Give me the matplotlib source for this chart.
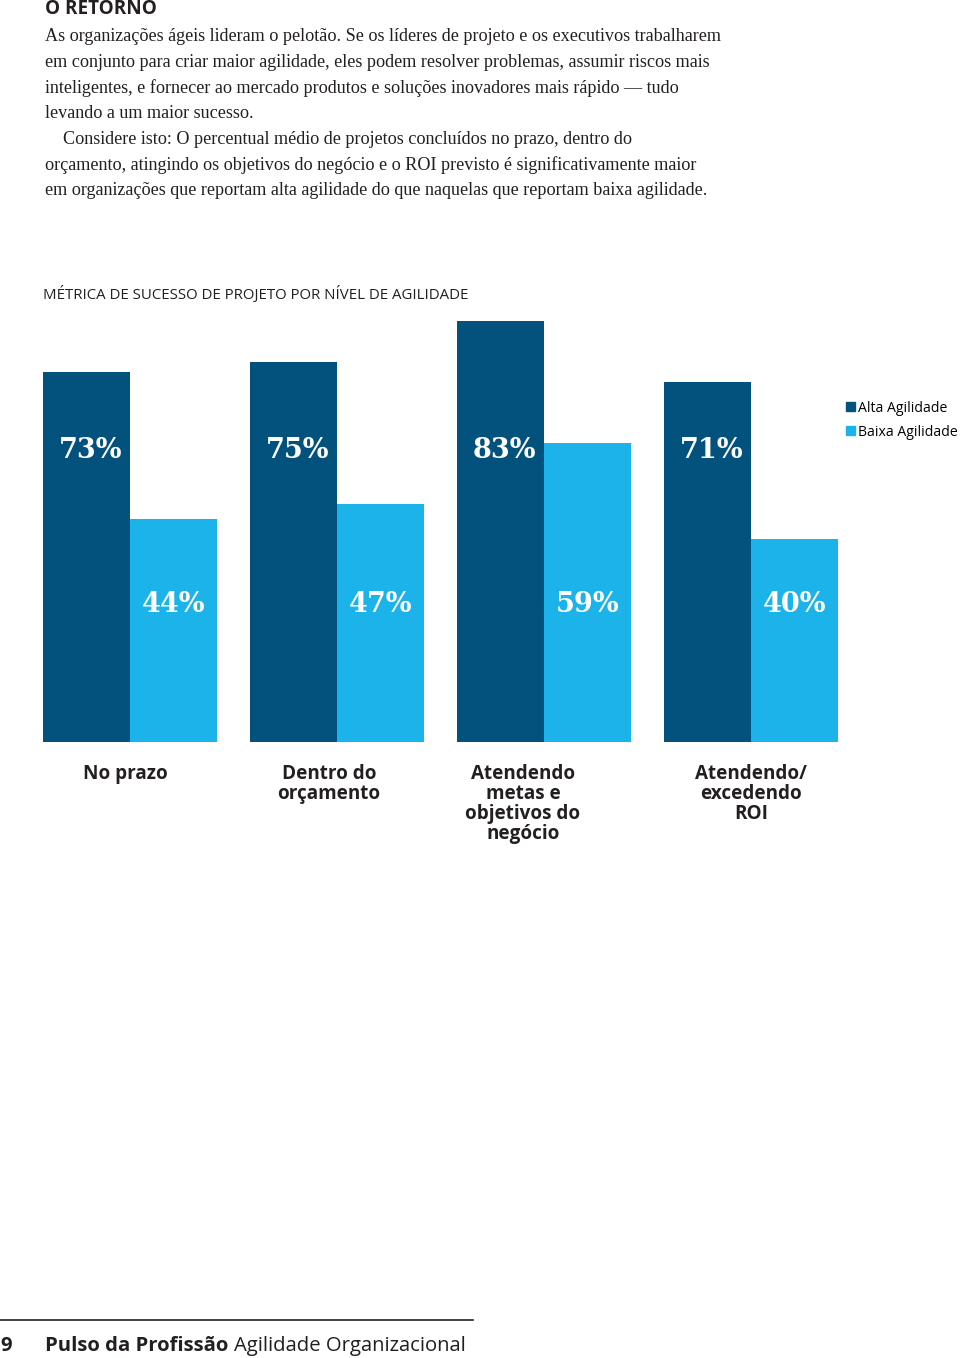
"""
Bar chart: project success metrics by agility level (page recreation).
"""
import numpy as np
import matplotlib.pyplot as plt
from matplotlib.patches import Patch

categories = ["No prazo", "Dentro do\norçamento", "Atendendo\nmetas e\nobjetivos do\nnegócio",
              "Atendendo/\nexcedendo\nROI"]
alta = [73, 75, 83, 71]
baixa = [44, 47, 59, 40]
series_names = ["Alta Agilidade", "Baixa Agilidade"]

header = "O RETORNO"
paragraph = [
    "As organizações ágeis lideram o pelotão. Se os líderes de projeto e os executivos trabalharem",
    "em conjunto para criar maior agilidade, eles podem resolver problemas, assumir riscos mais",
    "inteligentes, e fornecer ao mercado produtos e soluções inovadores mais rápido — tudo",
    "levando a um maior sucesso.",
    "    Considere isto: O percentual médio de projetos concluídos no prazo, dentro do",
    "orçamento, atingindo os objetivos do negócio e o ROI previsto é significativamente maior",
    "em organizações que reportam alta agilidade do que naquelas que reportam baixa agilidade.",
]
chart_title = "MÉTRICA DE SUCESSO DE PROJETO POR NÍVEL DE AGILIDADE"

DARK = "#03527e"
LIGHT = "#1bb3e9"
TEXT = "#231f20"
W, H = 960, 1358


def px(x, y):
    return x / W, 1 - y / H


fig = plt.figure(figsize=(W / 100, H / 100), dpi=100)

# header + body text
fig.text(*px(45, 9.5), header, fontsize=13.6, fontweight="bold", family="Open Sans",
         color=TEXT, va="center")
for i, line in enumerate(paragraph):
    fig.text(*px(45, 36.5 + i * 25.7), line, fontsize=13.05, family="Liberation Serif",
             color=TEXT, va="center")

fig.text(*px(43, 294), chart_title, fontsize=10.8, family="Open Sans", color=TEXT, va="center")

# chart axes: baseline at y=742px, 83% bar top at y=321px
ax = fig.add_axes([43 / W, 1 - 742 / H, 795 / W, 421 / H])
x = np.arange(len(categories))
bw = 0.42
ax.bar(x - bw / 2, alta, bw, color=DARK, label=series_names[0])
ax.bar(x + bw / 2, baixa, bw, color=LIGHT, label=series_names[1])
ax.set_xlim(-bw, len(categories) - 1 + bw)
ax.set_ylim(0, max(alta))
ax.axis("off")

label_shift = [-5, -8, -21, 0]  # px nudges of the category labels
for i in range(len(categories)):
    ax.text(x[i] - bw / 2 + 0.02, 57.4, f"{alta[i]}%", color="white", fontsize=19.5,
            fontweight="bold", family="DejaVu Serif", ha="center", va="center")
    ax.text(x[i] + bw / 2, 27.2, f"{baixa[i]}%", color="white", fontsize=19.5,
            fontweight="bold", family="DejaVu Serif", ha="center", va="center")
    ax.annotate(categories[i], (x[i], 0), xytext=(label_shift[i] * 0.72, -16),
                textcoords="offset points", color=TEXT, fontsize=13.6, fontweight="bold",
                family="Open Sans", ha="center", va="top", linespacing=1.0)

handles = [Patch(color=DARK), Patch(color=LIGHT)]
fig.legend(handles, series_names, loc="upper left", bbox_to_anchor=px(840, 395),
           frameon=False, handlelength=0.65, handleheight=0.65,
           handletextpad=0.25, labelspacing=0.65, borderaxespad=0,
           prop={"family": "Open Sans", "size": 10.1})

# footer
fig.add_artist(plt.Line2D([0, 473 / W], [1 - 1320 / H] * 2, color=TEXT, lw=1.2))
fig.text(*px(0, 1346), "9", fontsize=14.6, fontweight="bold", family="Open Sans",
         color=TEXT, va="center")
t = fig.text(*px(45, 1346), "Pulso da Profissão", fontsize=14.6, fontweight="bold",
             family="Open Sans", color=TEXT, va="center")
fig.canvas.draw()
bb = t.get_window_extent()
fig.text(bb.x1 / W + 6 / W, 1 - 1346 / H, "Agilidade Organizacional", fontsize=14.6,
         family="Open Sans", color=TEXT, va="center")

fig.savefig("out.png", dpi=100)
